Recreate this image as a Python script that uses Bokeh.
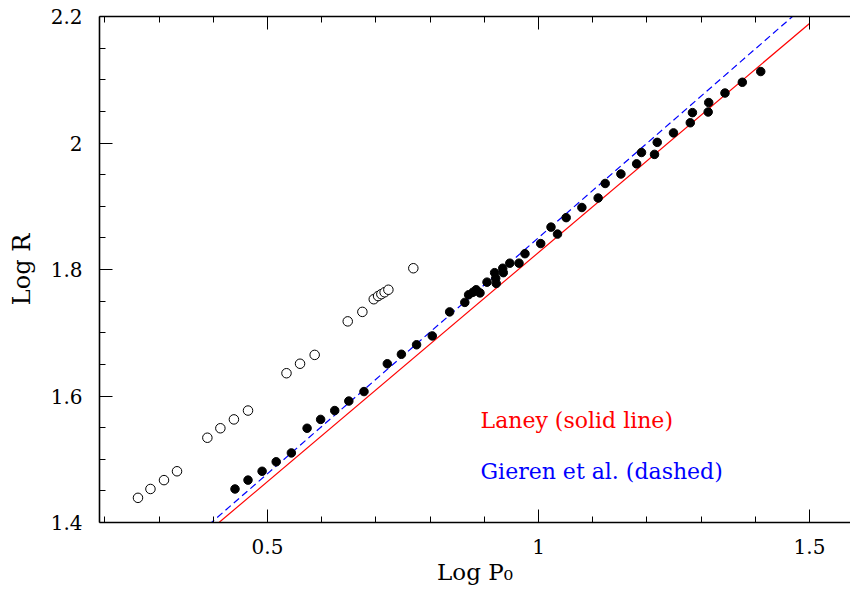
from bokeh.plotting import figure
from bokeh.models import Range1d, FixedTicker, LinearAxis, CustomJSTickFormatter
from bokeh.embed import file_html
from bokeh.resources import INLINE
from bokeh.core.properties import value

# ---- data ----
# open circles
open_logp = [0.261, 0.284, 0.309, 0.333, 0.389, 0.413, 0.438, 0.464, 0.535, 0.560,
             0.587, 0.648, 0.675, 0.696, 0.704, 0.710, 0.716, 0.723, 0.769]
open_logr = [1.439, 1.453, 1.467, 1.481, 1.534, 1.549, 1.563, 1.577, 1.636, 1.651,
             1.665, 1.718, 1.733, 1.753, 1.758, 1.761, 1.764, 1.768, 1.802]
# filled circles
fill_logp = [0.440, 0.464, 0.490, 0.516, 0.544, 0.573, 0.598, 0.624, 0.650, 0.678,
             0.721, 0.747, 0.775, 0.804, 0.836, 0.864, 0.871, 0.879, 0.885, 0.892,
             0.905, 0.919, 0.921, 0.922, 0.934, 0.935, 0.947, 0.964, 0.975, 1.004,
             1.023, 1.035, 1.051, 1.080, 1.110, 1.123, 1.152, 1.181, 1.190, 1.214,
             1.219, 1.249, 1.280, 1.284, 1.313, 1.314, 1.344, 1.376, 1.410]
fill_logr = [1.453, 1.467, 1.481, 1.496, 1.510, 1.549, 1.563, 1.577, 1.592, 1.607,
             1.651, 1.666, 1.681, 1.695, 1.733, 1.748, 1.760, 1.764, 1.768, 1.763,
             1.780, 1.795, 1.786, 1.778, 1.802, 1.795, 1.810, 1.810, 1.825, 1.841,
             1.867, 1.856, 1.882, 1.898, 1.913, 1.936, 1.951, 1.967, 1.985, 1.982,
             2.001, 2.016, 2.032, 2.048, 2.049, 2.064, 2.079, 2.096, 2.113]
# relation lines (end points)
laney_x = [0.30, 1.50]
laney_y = [1.320, 2.189]
gieren_x = [0.30, 1.60]
gieren_y = [1.328, 2.298]

# ticks
x_ticks = [0.5, 1.0, 1.5]
x_tick_labels = ["0.5", "1", "1.5"]
x_minor = [0.2, 0.3, 0.4, 0.6, 0.7, 0.8, 0.9, 1.1, 1.2, 1.3, 1.4]
y_ticks = [1.4, 1.6, 1.8, 2.0, 2.2]
y_tick_labels = ["1.4", "1.6", "1.8", "2", "2.2"]
y_minor = [1.45, 1.5, 1.55, 1.65, 1.7, 1.75, 1.85, 1.9, 1.95, 2.05, 2.1, 2.15]

legend_laney = "Laney (solid line)"
legend_gieren = "Gieren et al. (dashed)"

FONT = "DejaVu Serif"

p = figure(width=850, height=591,
           x_range=Range1d(0.19, 1.5756), y_range=Range1d(1.4, 2.2),
           output_backend="svg", toolbar_location=None,
           min_border_left=99, min_border_right=0,
           min_border_top=16, min_border_bottom=69)
p.grid.visible = False
p.outline_line_color = None
p.background_fill_color = "white"
p.border_fill_color = "white"

def style_axis(ax, ticks, minor, labels):
    ax.ticker = FixedTicker(ticks=ticks, minor_ticks=minor)
    ax.major_tick_in = 13
    ax.major_tick_out = 0
    ax.minor_tick_in = 6
    ax.minor_tick_out = 0
    ax.major_tick_line_color = "black"
    ax.minor_tick_line_color = "black"
    ax.major_tick_line_width = 1
    ax.minor_tick_line_width = 1
    ax.axis_line_color = "black"
    ax.axis_line_width = 1.6
    if labels is not None:
        ax.major_label_overrides = dict(zip(ticks, labels))
        ax.major_label_text_font = FONT
        ax.major_label_text_font_size = "20px"
        ax.major_label_text_color = "black"

xa = p.xaxis[0]
style_axis(xa, x_ticks, x_minor, x_tick_labels)
xa.major_label_standoff = 16
xa.axis_label = "Log P\u2080"
xa.axis_label_text_font = FONT
xa.axis_label_text_font_size = "23px"
xa.axis_label_text_font_style = "normal"
xa.axis_label_text_color = "black"
xa.axis_label_standoff = 2

ya = p.yaxis[0]
style_axis(ya, y_ticks, y_minor, y_tick_labels)
ya.major_label_standoff = 17
ya.axis_label = "Log R"
ya.axis_label_text_font = FONT
ya.axis_label_text_font_size = "24px"
ya.axis_label_text_font_style = "normal"
ya.axis_label_text_color = "black"
ya.axis_label_standoff = 12

top = LinearAxis()
style_axis(top, x_ticks, x_minor, None)
top.formatter = CustomJSTickFormatter(code="return ''")
top.major_label_standoff = 0
top.major_label_text_font_size = "1px"
p.add_layout(top, "above")

# lines
p.line(laney_x, laney_y, line_color="#ff0000", line_width=1.2)
p.line(gieren_x, gieren_y, line_color="#0000ff", line_width=1.2, line_dash="7 4")

# points
p.scatter(open_logp, open_logr, marker="circle", size=9.5,
          fill_color="white", line_color="black", line_width=1)
p.scatter(fill_logp, fill_logr, marker="circle", size=8.5,
          fill_color="black", line_color="black", line_width=1)

# legend text
p.text(x=[0.893], y=[1.561], text=[legend_laney], text_color="#ff0000",
       text_font=value(FONT), text_font_size="22px",
       text_align="left", text_baseline="alphabetic")
p.text(x=[0.893], y=[1.481], text=[legend_gieren], text_color="#0000ff",
       text_font=value(FONT), text_font_size="22px",
       text_align="left", text_baseline="alphabetic")

open("out.html", "w").write(file_html(p, INLINE))
